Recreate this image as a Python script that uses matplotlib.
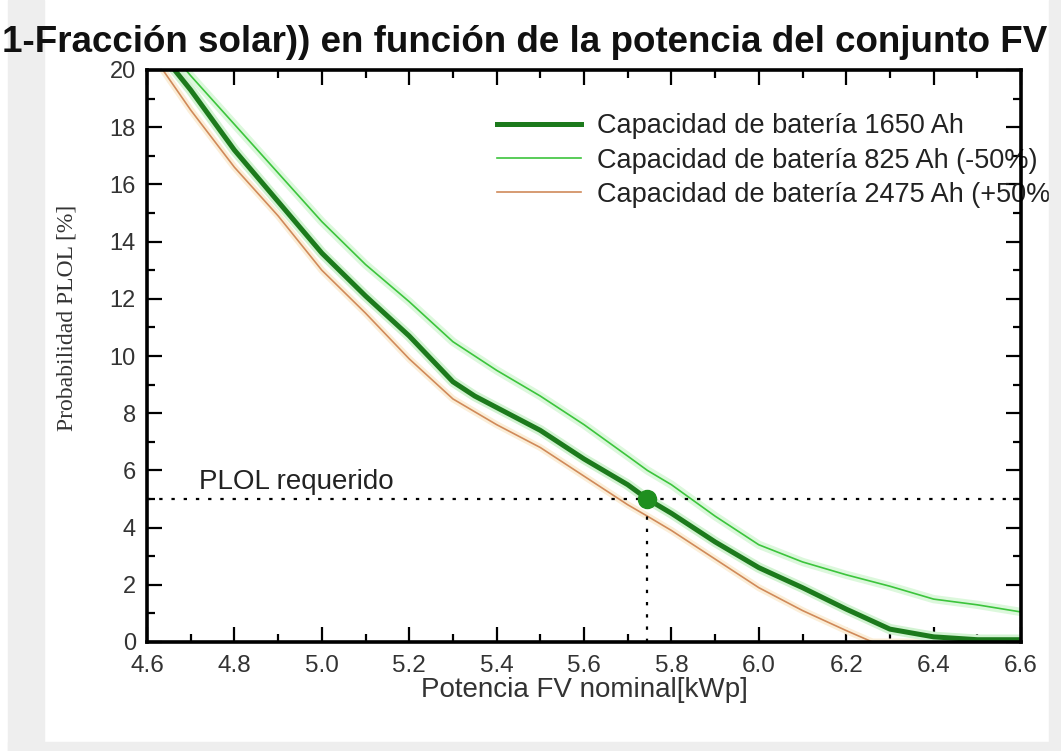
import matplotlib
matplotlib.use("Agg")
import matplotlib.pyplot as plt
from matplotlib.patches import Rectangle
from matplotlib.ticker import MultipleLocator, FormatStrFormatter

# ---- data ----
pv_power = [4.6, 4.7, 4.8, 4.9, 5.0, 5.1, 5.2, 5.3, 5.35, 5.4, 5.5, 5.6, 5.7,
            5.745, 5.8, 5.9, 6.0, 6.1, 6.2, 6.3, 6.4, 6.5, 6.6]
plol_1650 = [21.2, 19.3, 17.2, 15.4, 13.6, 12.1, 10.7, 9.1, 8.6, 8.2, 7.4, 6.4, 5.5,
             5.0, 4.5, 3.5, 2.6, 1.9, 1.15, 0.45, 0.18, 0.08, 0.08]
plol_825 = [21.6, 19.8, 18.1, 16.4, 14.7, 13.2, 11.9, 10.5, 10.0, 9.5, 8.6, 7.6, 6.5,
            6.0, 5.5, 4.4, 3.4, 2.8, 2.35, 1.95, 1.5, 1.3, 1.05]
pv_power_2475 = [4.6, 4.7, 4.8, 4.9, 5.0, 5.1, 5.2, 5.3, 5.4, 5.5, 5.6, 5.7, 5.745,
                 5.8, 5.9, 6.0, 6.1, 6.2, 6.26, 6.4, 6.6]
plol_2475 = [20.8, 18.6, 16.6, 14.9, 13.0, 11.5, 9.9, 8.5, 7.6, 6.8, 5.8, 4.8, 4.4,
             3.9, 2.9, 1.9, 1.1, 0.4, 0.0, 0.0, 0.0]

labels = ["Capacidad de batería 1650 Ah",
          "Capacidad de batería 825 Ah (-50%)",
          "Capacidad de batería 2475 Ah (+50%)"]
plol_required = 5.0
pv_required = 5.745

title = "1-Fracción solar)) en función de la potencia del conjunto FV"
xlabel = "Potencia FV nominal[kWp]"
ylabel = "Probabilidad PLOL [%]"
req_label = "PLOL requerido"

# ---- figure ----
W, H = 1061, 751
fig = plt.figure(figsize=(W / 100, H / 100), dpi=100, facecolor="white")
ax = fig.add_axes([147 / W, 1 - 642 / H, (1021 - 147) / W, (642 - 70) / H])

sans = ["Liberation Sans", "DejaVu Sans"]
c_main = "#1c7a1c"
c_low = "#3cc43c"
c_high = "#d08a5a"

# halos
ax.plot(pv_power, plol_825, color="#dcf8dc", lw=6, solid_capstyle="round", zorder=2)
ax.plot(pv_power_2475, plol_2475, color="#fbeed8", lw=5, solid_capstyle="round", zorder=2)
ax.plot(pv_power, plol_1650, color="#d2f3d2", lw=7.5, solid_capstyle="round", zorder=2)

l1, = ax.plot(pv_power, plol_1650, color=c_main, lw=3.6, zorder=4, label=labels[0])
l2, = ax.plot(pv_power, plol_825, color=c_low, lw=1.2, zorder=3, label=labels[1])
l3, = ax.plot(pv_power_2475, plol_2475, color=c_high, lw=1.2, zorder=3, label=labels[2])

ax.axhline(plol_required, color="black", lw=1.6, ls=(0, (1.5, 4)), zorder=3)
ax.plot([pv_required, pv_required], [0, plol_required], color="black", lw=1.6,
        ls=(0, (1.5, 4)), zorder=3)
ax.plot([pv_required], [plol_required], "o", color="#1f8f1f", ms=13, zorder=5)
ax.text(4.72, plol_required + 0.15, req_label, fontsize=20, family=sans,
        color="#222222", va="bottom", ha="left")

ax.set_xlim(4.6, 6.6)
ax.set_ylim(0, 20)
ax.xaxis.set_major_locator(MultipleLocator(0.2))
ax.xaxis.set_minor_locator(MultipleLocator(0.1))
ax.yaxis.set_major_locator(MultipleLocator(2))
ax.yaxis.set_minor_locator(MultipleLocator(1))
ax.xaxis.set_major_formatter(FormatStrFormatter("%.1f"))
ax.tick_params(which="both", direction="in", top=True, right=True, width=1.6,
               color="black")
ax.tick_params(which="major", length=11, labelcolor="#333333")
ax.tick_params(axis="x", which="major", pad=9, labelsize=17.5)
ax.tick_params(axis="y", which="major", pad=8, labelsize=17)
ax.tick_params(which="minor", length=6)
for lab in ax.get_xticklabels() + ax.get_yticklabels():
    lab.set_family(sans)
for s in ax.spines.values():
    s.set_linewidth(2.6)
    s.set_zorder(6)

ax.set_xlabel(xlabel, fontsize=20, family=sans, color="#333333")
ax.xaxis.set_label_coords(0.5, -0.062)
ax.set_ylabel(ylabel, fontsize=17, family=["Liberation Serif", "DejaVu Serif"],
              color="#333333")
ax.yaxis.set_label_coords(-0.079, 0.566)

leg = ax.legend(handles=[l1, l2, l3], loc="upper left",
                bbox_to_anchor=(0.40, 0.924), frameon=False,
                prop={"family": sans, "size": 19.5}, handlelength=3.1,
                handletextpad=0.62, labelspacing=0.3, borderpad=0,
                borderaxespad=0)
for t in leg.get_texts():
    t.set_color("#222222")
leg.set_zorder(2.4)

# gray frame strips of the screenshot
gray = "#eeeeee"
fig.patches.append(Rectangle((8 / W, 0), 36 / W, 1, transform=fig.transFigure,
                             color=gray, zorder=1))
fig.patches.append(Rectangle((1049 / W, 0), 12 / W, 1, transform=fig.transFigure,
                             color=gray, zorder=1))
fig.patches.append(Rectangle((8 / W, 0), 1 - 8 / W, 9 / H, transform=fig.transFigure,
                             color=gray, zorder=1))

fig.text(2 / W, 1 - 52 / H, title, fontsize=26.5, fontweight="bold",
         family=sans, ha="left", va="baseline", color="#111111", zorder=3)

fig.savefig("out.png", dpi=100, facecolor="white")
